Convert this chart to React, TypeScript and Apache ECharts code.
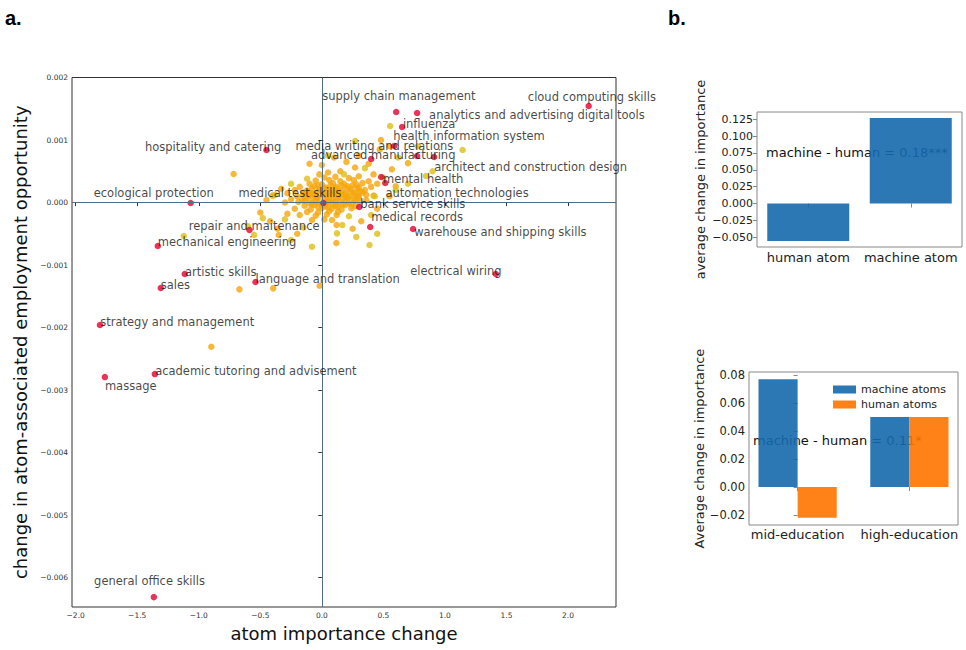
import React, { useEffect, useRef } from "react";
import * as echarts from "echarts";

// ---------- panel a: labelled skills (red) ----------
const skillNames = [
  "cloud computing skills", "supply chain management", "analytics and advertising digital tools",
  "influenza", "health information system", "media writing and relations", "advanced manufacturing",
  "architect and construction design", "mental health", "automation technologies", "bank service skills",
  "medical records", "warehouse and shipping skills", "electrical wiring", "hospitality and catering",
  "ecological protection", "medical test skills", "repair and maitenance", "mechanical engineering",
  "artistic skills", "sales", "language and translation", "strategy and management",
  "academic tutoring and advisement", "massage", "general office skills",
];
const skillX = [2.168, 0.604, 0.774, 0.652, 0.774, 0.588, 0.401, 0.912, 0.482, 0.515, 0.304, 0.393, 0.741, 1.414,
  -0.45, -1.066, 0.012, -0.588, -1.333, -1.114, -1.309, -0.539, -1.803, -1.357, -1.763, -1.365];
const skillY = [0.001544, 0.001448, 0.001432, 0.001208, 0.000744, 0.000904, 0.000696, 0.000728, 0.000408, 0.000312,
  -0.000072, -0.000392, -0.000424, -0.001144, 0.00084, -0.000008, -0.000008, -0.00044, -0.000696, -0.001144,
  -0.001368, -0.001272, -0.00196, -0.002744, -0.002792, -0.006312];
// anchor (left / middle) of each annotation, in data units
const labelX = [1.673, 0.002, 0.871, 0.658, 0.579, -0.215, -0.088, 0.912, 0.496, 0.517, 0.312, 0.401, 0.75, 0.717,
  -1.438, -1.854, -0.677, -1.082, -1.333, -1.112, -1.309, -0.539, -1.801, -1.355, -1.763, -1.851];
const labelY = [0.001688, 0.001704, 0.0014, 0.001256, 0.001069, 0.000904, 0.00076, 0.000573, 0.000371, 0.000157,
  -0.000024, -0.000237, -0.000477, -0.001096, 0.000888, 0.000152, 0.000152, -0.000371, -0.000632, -0.001107,
  -0.00132, -0.001224, -0.001907, -0.002696, -0.002936, -0.006056];

// ---------- panel a: unlabelled atoms ----------
const orangeAtoms: [number, number][] = [
  [0.02, 0.0004], [0.11, 0.00041], [0.22, 0.00039], [0.3, 0.00042],
  [-0.05, 0.00035], [0.06, 0.00036], [0.15, 0.00034], [0.26, 0.00036], [0.38, 0.00034],
  [-0.1, 0.0003], [0.0, 0.00029], [0.09, 0.00031], [0.18, 0.0003], [0.28, 0.00029], [0.33, 0.00031], [0.45, 0.0003],
  [-0.18, 0.00025], [-0.06, 0.00026], [0.03, 0.00024], [0.12, 0.00025], [0.21, 0.00026], [0.3, 0.00024], [0.4, 0.00025],
  [-0.22, 0.0002], [-0.12, 0.00019], [-0.02, 0.00021], [0.07, 0.0002], [0.16, 0.00019], [0.24, 0.00021], [0.35, 0.0002],
  [-0.28, 0.00015], [-0.15, 0.00016], [-0.08, 0.00014], [0.01, 0.00015], [0.1, 0.00016], [0.19, 0.00014], [0.27, 0.00015], [0.33, 0.00016],
  [-0.2, 0.0001], [-0.11, 0.00011], [-0.04, 0.00009], [0.05, 0.0001], [0.13, 0.00011], [0.22, 0.00009], [0.3, 0.0001], [0.42, 0.00011],
  [-0.25, 0.00005], [-0.16, 0.00004], [-0.07, 0.00006], [0.02, 0.00005], [0.09, 0.00004], [0.17, 0.00006], [0.26, 0.00005], [0.36, 0.00004],
  [-0.3, 0.0], [-0.19, 0.00001], [-0.1, -0.00001], [-0.03, 0.0], [0.06, 0.00001], [0.14, 0.0], [0.22, -0.00001], [0.31, 0.0],
  [-0.14, -0.00005], [-0.06, -0.00004], [0.03, -0.00006], [0.11, -0.00005], [0.19, -0.00004], [0.27, -0.00006],
  [-0.22, -0.0001], [-0.09, -0.00011], [0.0, -0.00009], [0.08, -0.0001], [0.16, -0.00011], [0.24, -0.00009],
  [-0.12, -0.00015], [-0.03, -0.00016], [0.06, -0.00014], [0.13, -0.00015],
  [-0.18, -0.0002], [-0.05, -0.00021], [0.04, -0.00019], [0.12, -0.0002],
  [-0.08, -0.00028], [0.02, -0.00027], [0.083, -0.00028], [0.118, -0.000648],
  [-0.03, 0.000275], [0.07, 0.000278], [0.16, 0.000272], [0.25, 0.000276],
  [-0.08, 0.000225], [0.02, 0.000228], [0.11, 0.000222], [0.2, 0.000226], [0.29, 0.000224],
  [-0.11, 0.000175], [-0.03, 0.000178], [0.05, 0.000172], [0.14, 0.000176], [0.23, 0.000174], [0.31, 0.000177],
  [-0.15, 0.000125], [-0.07, 0.000128], [0.01, 0.000122], [0.09, 0.000126], [0.18, 0.000124], [0.26, 0.000127], [0.36, 0.000123],
  [-0.12, 0.000075], [-0.03, 0.000078], [0.06, 0.000072], [0.13, 0.000076], [0.21, 0.000074], [0.3, 0.000077],
  [-0.14, 0.000025], [-0.05, 0.000028], [0.04, 0.000022], [0.11, 0.000026], [0.19, 0.000024], [0.27, 0.000027],
  [-0.08, -0.000025], [0.0, -0.000028], [0.09, -0.000022], [0.17, -0.000026], [0.24, -0.000024],
  [-0.03, -0.000075], [0.05, -0.000078], [0.13, -0.000072],
  [-0.717, 0.000456], [-0.67, -0.001389], [-0.395, -0.001373], [-0.018, -0.001331], [-0.898, -0.002307],
  [0.569, 0.000531], [-0.5, -0.00016], [-0.45, 0.00004], [-0.36, -0.00042], [-0.35, -0.00052], [-0.2, -0.0005],
  [0.55, 0.0009], [0.47, 0.00085], [0.3, 0.00075], [0.2, 0.00065], [0.1, 0.00072], [0.0, 0.0006], [-0.1, 0.00062],
  [0.38, 0.00062], [0.7, 0.00063], [0.32, -0.0003], [0.25, -0.00042], [-0.42, -0.0003], [0.6, 0.00026],
  [0.55, 0.0001], [0.45, -0.0001], [0.12, -0.00036], [0.48, 0.001], [-0.33, 0.00022], [-0.4, 0.00011],
  [0.15, 0.0005], [0.27, 0.00056], [0.05, 0.00048], [-0.02, 0.00045], [0.42, 0.00045], [-0.28, -0.00018],
];
const yellowAtoms: [number, number][] = [
  [0.271, 0.000984], [-1.122, -0.000536], [0.555, 0.001224], [1.144, 0.00084], [0.847, 0.000424],
  [0.166, -0.00036], [0.123, -0.000493], [0.387, -0.00068], [-0.08, -0.000707], [-0.3, -0.00027],
  [-0.6, -0.00038], [-0.25, 0.0003], [0.43, 0.0001], [0.5, 0.0004], [0.6, 0.0002], [-0.38, 0.00012],
  [0.05, 0.00075], [0.22, -0.00022], [-0.15, -0.0004], [-0.48, -0.00025], [0.4, -0.0002], [0.7, 0.0003],
  [0.62, 0.00072], [0.35, 0.00055], [0.78, 0.0009], [0.9, 0.0005], [-0.55, -0.00052], [0.28, -0.00055],
  [-0.25, -0.0006], [0.45, -0.0005], [-0.12, 0.00038], [0.18, 0.00045],
];

const xTicksA = [-2, -1.5, -1, -0.5, 0, 0.5, 1, 1.5, 2];
const yTicksA = [-0.006, -0.005, -0.004, -0.003, -0.002, -0.001, 0, 0.001, 0.002];

// ---------- panel b (top) ----------
const atomCategories = ["human atom", "machine atom"];
const atomValues = [-0.0555, 0.127];
const atomYTicks = [-0.05, -0.025, 0, 0.025, 0.05, 0.075, 0.1, 0.125];

// ---------- panel b (bottom) ----------
const eduCategories = ["mid-education", "high-education"];
const eduMachine = [0.077, 0.05];
const eduHuman = [-0.022, 0.05];
const eduYTicks = [-0.02, 0, 0.02, 0.04, 0.06, 0.08];

const FONT = "DejaVu Sans";
const minus = (s: string) => s.replace("-", "\u2212");
const fmt = (d: number) => (v: number) => minus((Math.abs(v) < 1e-12 ? 0 : v).toFixed(d));

export default function App() {
  const ref = useRef<HTMLDivElement>(null);
  useEffect(() => {
    if (!ref.current) return;
    const chart = echarts.init(ref.current, undefined, { renderer: "svg" });
    const tickLabel = (size: number, color = "#333") => ({ fontSize: size, color, fontFamily: FONT });
    const option: any = {
      animation: false,
      backgroundColor: "#ffffff",
      textStyle: { fontFamily: FONT },
      grid: [
        { left: 72, top: 77.5, width: 544, height: 529.5, show: true, borderColor: "#333", borderWidth: 1, backgroundColor: "transparent" },
        { left: 757, top: 112, width: 205, height: 135, show: true, borderColor: "#888", borderWidth: 1, backgroundColor: "transparent" },
        { left: 749, top: 372, width: 209, height: 153, show: true, borderColor: "#888", borderWidth: 1, backgroundColor: "transparent" },
      ],
      xAxis: [
        {
          type: "value", gridIndex: 0, min: -2.03, max: 2.39,
          name: "atom importance change", nameLocation: "middle", nameGap: 17,
          nameTextStyle: { fontSize: 18, color: "#111", fontFamily: FONT },
          axisLine: { show: false }, splitLine: { show: false },
          axisTick: { show: true, customValues: xTicksA, length: 3.5, lineStyle: { color: "#333" } },
          axisLabel: { customValues: xTicksA, formatter: fmt(1), margin: 4, ...tickLabel(7.5) },
        },
        {
          type: "category", gridIndex: 1, data: atomCategories,
          axisLine: { show: false }, splitLine: { show: false },
          axisTick: { show: true, alignWithLabel: true, interval: 0, length: 4, lineStyle: { color: "#888" } },
          axisLabel: { interval: 0, margin: 4, ...tickLabel(13, "#222") },
        },
        {
          type: "value", gridIndex: 2, min: -0.435, max: 1.435,
          axisLine: { show: false }, splitLine: { show: false },
          axisTick: { show: true, customValues: [0, 1], length: 4, lineStyle: { color: "#888" } },
          axisLabel: { customValues: [0, 1], formatter: (v: number) => eduCategories[Math.round(v)], margin: 3, ...tickLabel(13, "#222") },
        },
      ],
      yAxis: [
        {
          type: "value", gridIndex: 0, min: -0.00647, max: 0.002,
          name: "change in atom-associated employment opportunity", nameLocation: "middle", nameGap: 41,
          nameTextStyle: { fontSize: 18, color: "#111", fontFamily: FONT },
          axisLine: { show: false }, splitLine: { show: false },
          axisTick: { show: true, customValues: yTicksA, length: 3.5, lineStyle: { color: "#333" } },
          axisLabel: { customValues: yTicksA, formatter: fmt(3), margin: 4, ...tickLabel(7.5) },
        },
        {
          type: "value", gridIndex: 1, min: -0.0644, max: 0.1358,
          name: "average change in importance", nameLocation: "middle", nameGap: 50,
          nameTextStyle: { fontSize: 13, color: "#222", fontFamily: FONT },
          axisLine: { show: false }, splitLine: { show: false },
          axisTick: { show: true, customValues: atomYTicks, length: 4, lineStyle: { color: "#888" } },
          axisLabel: { customValues: atomYTicks, formatter: fmt(3), margin: 4, ...tickLabel(11, "#222") },
        },
        {
          type: "value", gridIndex: 2, min: -0.0271, max: 0.0821,
          name: "Average change in importance", nameLocation: "middle", nameGap: 42,
          nameTextStyle: { fontSize: 13, color: "#222", fontFamily: FONT },
          axisLine: { show: false }, splitLine: { show: false },
          axisTick: { show: true, customValues: eduYTicks, length: 4, lineStyle: { color: "#888" } },
          axisLabel: { customValues: eduYTicks, formatter: fmt(2), margin: 4, ...tickLabel(11.5, "#222") },
        },
      ],
      legend: {
        show: true, left: 828, top: 379, orient: "vertical", itemGap: 4,
        itemWidth: 23, itemHeight: 8, icon: "rect",
        data: ["machine atoms", "human atoms"],
        textStyle: { fontSize: 11, color: "#222", fontFamily: FONT },
      },
      graphic: [
        { type: "text", left: 5, top: 8, z: 0, style: { text: "a.", fontSize: 20, fontWeight: "bold", fontFamily: "Liberation Sans", fill: "#000" } },
        { type: "text", left: 668, top: 8, z: 0, style: { text: "b.", fontSize: 20, fontWeight: "bold", fontFamily: "Liberation Sans", fill: "#000" } },
        { type: "text", x: 766, y: 152, z: 0, style: { text: "machine - human = 0.18***", fontSize: 13, fontFamily: FONT, fill: "#111", verticalAlign: "middle" } },
        { type: "text", x: 753, y: 440, z: 0, style: { text: "machine - human = 0.11*", fontSize: 13, fontFamily: FONT, fill: "#111", verticalAlign: "middle" } },
      ],
      series: [
        {
          type: "scatter", xAxisIndex: 0, yAxisIndex: 0, symbolSize: 6.5, z: 2,
          itemStyle: { color: "#f5a50a" }, data: orangeAtoms,
          markLine: {
            silent: true, symbol: ["none", "none"], label: { show: false },
            lineStyle: { color: "#4e6d8a", width: 1, type: "solid" },
            data: [{ xAxis: 0 }, { yAxis: 0 }],
          },
        },
        {
          type: "scatter", xAxisIndex: 0, yAxisIndex: 0, symbolSize: 6.5, z: 3,
          itemStyle: { color: "#dcbe14" }, data: yellowAtoms,
        },
        {
          type: "scatter", xAxisIndex: 0, yAxisIndex: 0, symbolSize: 6.5, z: 4,
          itemStyle: { color: "#e5002c" },
          data: skillNames.map((n, i) => ({ name: n, value: [skillX[i], skillY[i]] })),
        },
        {
          type: "scatter", xAxisIndex: 0, yAxisIndex: 0, symbolSize: 0.1, z: 5, silent: true,
          itemStyle: { color: "transparent" },
          label: { show: true, position: "right", distance: 0, formatter: "{b}", fontSize: 11.5, color: "#151515", fontFamily: FONT },
          labelLayout: { hideOverlap: false },
          data: skillNames.map((n, i) => ({ name: n, value: [labelX[i], labelY[i]] })),
        },
        {
          type: "bar", xAxisIndex: 1, yAxisIndex: 1, barWidth: "80%", z: 2,
          itemStyle: { color: "#1569ad", opacity: 0.9 },
          data: atomValues,
        },
        {
          type: "bar", name: "machine atoms", xAxisIndex: 2, yAxisIndex: 2, barWidth: "35%", barGap: "0%", z: 2,
          itemStyle: { color: "#1569ad", opacity: 0.9 },
          data: eduCategories.map((_, i) => [i, eduMachine[i]]),
        },
        {
          type: "bar", name: "human atoms", xAxisIndex: 2, yAxisIndex: 2, barWidth: "35%", barGap: "0%", z: 2,
          itemStyle: { color: "#ff7400", opacity: 0.9 },
          data: eduCategories.map((_, i) => [i, eduHuman[i]]),
        },
      ],
    };
    chart.setOption(option);
    return () => chart.dispose();
  }, []);
  return <div ref={ref} style={{ position: "fixed", left: 0, top: 0, width: 966, height: 650 }} />;
}
